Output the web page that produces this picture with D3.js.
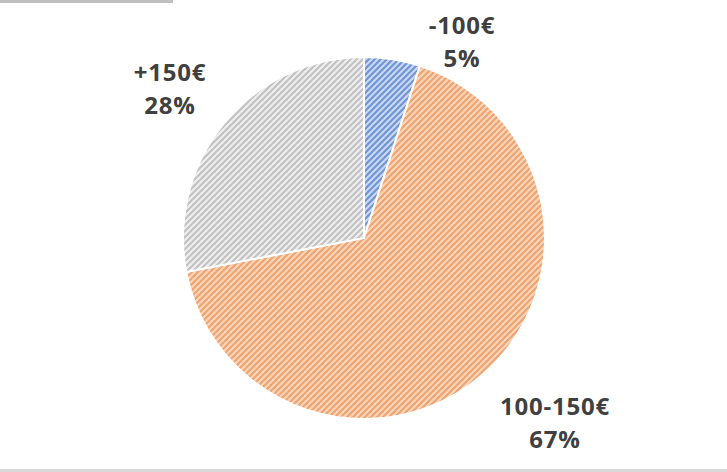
<!DOCTYPE html>
<html>
<head>
<meta charset="utf-8">
<script src="https://cdn.jsdelivr.net/npm/d3@7/dist/d3.min.js"></script>
<style>
  html, body { margin: 0; padding: 0; background: #fff; }
  svg { display: block; }
</style>
</head>
<body>
<svg id="chart" width="727" height="472"></svg>
<script>
// Spending brackets and their shares
const categories = ["-100€", "100-150€", "+150€"];
const shares = [5, 67, 28];
const shareLabels = ["5%", "67%", "28%"];

// Hatch colours per slice: light ground + darker diagonal stripe
const groundColors = ["#cbd8f1", "#fad6bd", "#f0f0f0"];
const stripeColors = ["#7196d8", "#f0a46f", "#c2c2c2"];

const W = 727, H = 472;
const cx = 364, cy = 238, R = 181;

const svg = d3.select("#chart");

// Frame remnants
svg.append("rect").attr("x", 0).attr("y", 0).attr("width", 173).attr("height", 3).attr("fill", "#bfbfbf");
svg.append("rect").attr("x", 0).attr("y", 469).attr("width", W).attr("height", 3).attr("fill", "#d9d9d9");

// Diagonal hatch patterns
const defs = svg.append("defs");
const P = 6;
categories.forEach((c, i) => {
  const p = defs.append("pattern")
    .attr("id", "hatch" + i)
    .attr("patternUnits", "userSpaceOnUse")
    .attr("width", P).attr("height", P);
  p.append("rect").attr("width", P).attr("height", P).attr("fill", groundColors[i]);
  p.append("path")
    .attr("d", `M-1,${P + 1} L${P + 1},-1 M-1,1 L1,-1 M${P - 1},${P + 1} L${P + 1},${P - 1}`)
    .attr("stroke", stripeColors[i])
    .attr("stroke-width", 2.2);
});

const pie = d3.pie().sort(null).value(d => d)(shares);
const arc = d3.arc().innerRadius(0).outerRadius(R);

const g = svg.append("g").attr("transform", `translate(${cx},${cy})`);
g.selectAll("path.slice")
  .data(pie)
  .join("path")
  .attr("class", "slice")
  .attr("d", arc)
  .attr("fill", (d, i) => `url(#hatch${i})`)
  .attr("stroke", "#fff")
  .attr("stroke-width", 2);

// Data labels placed outside each slice
const labelPos = [
  { x: 462, y: 34 },
  { x: 555, y: 415 },
  { x: 170, y: 81 }
];
const labels = svg.append("g")
  .attr("font-family", "'Open Sans', sans-serif")
  .attr("font-weight", "bold")
  .attr("font-size", 24)
  .attr("letter-spacing", 0.8)
  .attr("fill", "#404040")
  .attr("text-anchor", "middle");

categories.forEach((c, i) => {
  const t = labels.append("text").attr("x", labelPos[i].x).attr("y", labelPos[i].y);
  t.append("tspan").attr("x", labelPos[i].x).text(c);
  t.append("tspan").attr("x", labelPos[i].x).attr("dy", 33).text(shareLabels[i]);
});
</script>
</body>
</html>
